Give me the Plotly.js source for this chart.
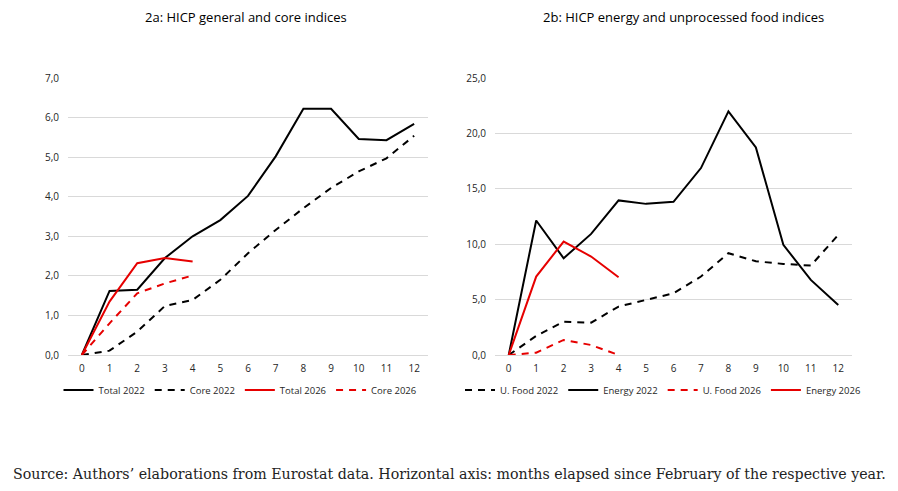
<!DOCTYPE html>
<html>
<head>
<meta charset="utf-8">
<script src="https://cdn.plot.ly/plotly-3.0.1.min.js"></script>
<style>html,body{margin:0;padding:0;background:#fff;}#chart{width:898px;height:491px;}</style>
</head>
<body>
<div id="chart"></div>
<script>
// ---- data ----
const months = [0,1,2,3,4,5,6,7,8,9,10,11,12];
const months2026 = [0,1,2,3,4];
const xTickLabels = ["0","1","2","3","4","5","6","7","8","9","10","11","12"];

const total2022 = [0,1.62,1.65,2.45,3.0,3.41,4.02,5.02,6.22,6.22,5.46,5.43,5.84];
const core2022  = [0,0.11,0.59,1.24,1.39,1.90,2.57,3.16,3.71,4.22,4.64,4.97,5.54];
const total2026 = [0,1.35,2.32,2.45,2.36];
const core2026  = [0,0.80,1.56,1.81,2.01];

const ufood2022  = [0,1.72,3.01,2.92,4.37,4.97,5.57,7.08,9.19,8.46,8.22,8.07,10.84];
const energy2022 = [0,12.14,8.73,10.93,13.95,13.64,13.83,16.87,21.99,18.73,9.94,6.78,4.52];
const ufood2026  = [0,0.21,1.36,0.90,0.0];
const energy2026 = [0,7.08,10.24,8.89,7.02];

const titleA = "2a: HICP general and core indices";
const titleB = "2b: HICP energy and unprocessed food indices";
const sourceText = "Source: Authors’ elaborations from Eurostat data. Horizontal axis: months elapsed since February of the respective year.";

// ---- styles ----
const BLACK = "#000000";
const RED = "#e60000";
const DASH = "7px,6px";
const LW = 2;
const sansFont = "Open Sans, Noto Sans, sans-serif";

function tr(x, y, name, color, dash, xa, ya, legend) {
  return {
    x: x, y: y, name: name, type: "scatter", mode: "lines",
    line: {color: color, width: LW, dash: dash},
    xaxis: xa, yaxis: ya, legend: legend, hoverinfo: "skip"
  };
}

const traces = [
  tr(months, total2022, "Total 2022", BLACK, "solid", "x", "y", "legend"),
  tr(months, core2022, "Core 2022", BLACK, DASH, "x", "y", "legend"),
  tr(months2026, total2026, "Total 2026", RED, "solid", "x", "y", "legend"),
  tr(months2026, core2026, "Core 2026", RED, DASH, "x", "y", "legend"),
  tr(months, ufood2022, "U. Food 2022", BLACK, DASH, "x2", "y2", "legend2"),
  tr(months, energy2022, "Energy 2022", BLACK, "solid", "x2", "y2", "legend2"),
  tr(months2026, ufood2026, "U. Food 2026", RED, DASH, "x2", "y2", "legend2"),
  tr(months2026, energy2026, "Energy 2026", RED, "solid", "x2", "y2", "legend2")
];

const xaxisBase = {
  range: [-0.5, 12.5],
  tickmode: "array", tickvals: months, ticktext: xTickLabels,
  showgrid: false, zeroline: false, showline: false,
  ticks: "", ticklabelstandoff: 6,
  tickfont: {family: sansFont, size: 10, color: "#262626"},
  fixedrange: true
};
const yaxisBase = {
  tickformat: ".1f",
  showgrid: true, gridcolor: "#d9d9d9", gridwidth: 1,
  zeroline: true, zerolinecolor: "#d9d9d9", zerolinewidth: 1,
  showline: false, ticks: "", ticklabelstandoff: 8,
  tickfont: {family: sansFont, size: 10, color: "#262626"},
  fixedrange: true
};

const legendBase = {
  orientation: "h", xanchor: "center", yanchor: "middle",
  font: {family: sansFont, size: 9.5, color: "#262626"},
  itemwidth: 30, bgcolor: "rgba(0,0,0,0)", traceorder: "normal"
};

const layout = {
  width: 898, height: 491,
  margin: {l: 0, r: 0, t: 0, b: 0},
  paper_bgcolor: "#ffffff", plot_bgcolor: "#ffffff",
  separators: ", ",
  showlegend: true,
  xaxis: Object.assign({}, xaxisBase, {domain: [68/898, 428/898], anchor: "y"}),
  yaxis: Object.assign({}, yaxisBase, {domain: [136/491, 413/491], range: [0, 7], dtick: 1, anchor: "x"}),
  xaxis2: Object.assign({}, xaxisBase, {domain: [495/898, 852/898], anchor: "y2"}),
  yaxis2: Object.assign({}, yaxisBase, {domain: [136/491, 413/491], range: [0, 25], dtick: 5, anchor: "x2"}),
  legend: Object.assign({}, legendBase, {x: 240/898, y: 1 - 390/491}),
  legend2: Object.assign({}, legendBase, {x: 663/898, y: 1 - 390/491}),
  annotations: [
    {text: titleA, xref: "paper", yref: "paper", x: 246/898, y: 1 - 17/491, xanchor: "center", yanchor: "middle",
     showarrow: false, font: {family: sansFont, size: 13, color: "#000"}},
    {text: titleB, xref: "paper", yref: "paper", x: 683/898, y: 1 - 17/491, xanchor: "center", yanchor: "middle",
     showarrow: false, font: {family: sansFont, size: 13, color: "#000"}},
    {text: sourceText, xref: "paper", yref: "paper", x: 449/898, y: 1 - 474/491, xanchor: "center", yanchor: "middle",
     showarrow: false, font: {family: "DejaVu Serif, Liberation Serif, serif", size: 14.2, color: "#222"}}
  ]
};

Plotly.newPlot("chart", traces, layout, {displayModeBar: false, staticPlot: true});
</script>
</body>
</html>
